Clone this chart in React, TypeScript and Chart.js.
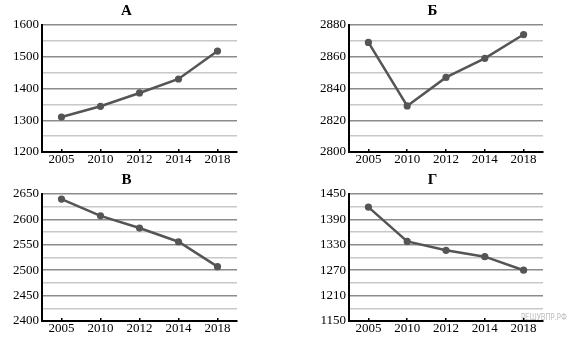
import React, { useEffect, useRef } from 'react';
import { Chart, registerables } from 'chart.js';

Chart.register(...registerables);

const years = ['2005', '2010', '2012', '2014', '2018'];

const titleA = 'А';
const valuesA = [1310, 1344, 1386, 1430, 1518];
const rangeA = [1200, 1600, 50];

const titleB = 'Б';
const valuesB = [2869, 2829, 2847, 2859, 2874];
const rangeB = [2800, 2880, 10];

const titleV = 'В';
const valuesV = [2640, 2607, 2583, 2556, 2507];
const rangeV = [2400, 2650, 25];

const titleG = 'Г';
const valuesG = [1419, 1338, 1317, 1302, 1270];
const rangeG = [1150, 1450, 30];

const FONT = '"Liberation Serif", "Times New Roman", serif';

type Box = { left: number; top: number; width: number; height: number; axisWidth: number };

function MiniChart(props: { title: string; values: number[]; range: number[]; box: Box }) {
  const ref = useRef<HTMLCanvasElement>(null);
  const { title, values, range, box } = props;
  useEffect(() => {
    const [min, max, step] = range;
    const isMajor = (v: number) => Math.round((v - min) / step) % 2 === 0;
    const chart = new Chart(ref.current as HTMLCanvasElement, {
      type: 'line',
      data: {
        labels: years,
        datasets: [
          {
            data: values,
            borderColor: '#555555',
            backgroundColor: '#555555',
            borderWidth: 2.5,
            pointRadius: 3.6,
            pointBackgroundColor: '#555555',
            pointBorderWidth: 0,
            tension: 0,
          },
        ],
      },
      options: {
        animation: false,
        responsive: false,
        devicePixelRatio: 1,
        layout: { padding: { left: 0, right: 0, top: 0, bottom: 0 } },
        plugins: {
          legend: { display: false },
          tooltip: { enabled: false },
          title: {
            display: true,
            text: title,
            color: '#000',
            font: { family: FONT, size: 15, weight: 'bold', lineHeight: 1.2 },
            padding: { top: 2, bottom: 5 },
          },
        },
        scales: {
          x: {
            type: 'category',
            offset: true,
            grid: {
              drawOnChartArea: false,
              drawTicks: true,
              tickLength: -3,
              color: '#000',
              lineWidth: 1.5,
            },
            border: { display: true, color: '#000', width: 2 },
            ticks: {
              color: '#000',
              padding: 3,
              font: { family: FONT, size: 13 },
              maxRotation: 0,
              autoSkip: false,
            },
            afterFit: (s: any) => {
              s.height = 20;
            },
          },
          y: {
            type: 'linear',
            min,
            max,
            grid: {
              drawTicks: false,
              lineWidth: 1.5,
              color: (c: any) =>
                c.tick && Math.abs(c.tick.value - min) < 1e-6
                  ? '#000'
                  : c.tick && isMajor(c.tick.value)
                  ? '#8c8c8c'
                  : '#c8c8c8',
            },
            border: { display: true, color: '#000', width: 2 },
            ticks: {
              stepSize: step,
              autoSkip: false,
              maxTicksLimit: 50,
              padding: 3,
              color: '#000',
              font: { family: FONT, size: 13 },
              callback: (v: any) => (isMajor(Number(v)) ? String(v) : ''),
            },
            afterFit: (s: any) => {
              s.width = box.axisWidth;
            },
          },
        },
      },
    });
    return () => chart.destroy();
  }, []);
  return (
    <canvas
      ref={ref}
      width={box.width}
      height={box.height}
      style={{
        position: 'absolute',
        left: box.left,
        top: box.top,
        width: box.width,
        height: box.height,
      }}
    />
  );
}

export default function App() {
  return (
    <div
      style={{
        position: 'fixed',
        left: 0,
        top: 0,
        width: 571,
        height: 345,
        background: '#fff',
        overflow: 'hidden',
      }}
    >
      <MiniChart title={titleA} values={valuesA} range={rangeA} box={{ left: 12, top: 0, width: 229, height: 172, axisWidth: 30 }} />
      <MiniChart title={titleB} values={valuesB} range={rangeB} box={{ left: 318, top: 0, width: 229, height: 172, axisWidth: 31 }} />
      <MiniChart title={titleV} values={valuesV} range={rangeV} box={{ left: 12, top: 169, width: 229, height: 172, axisWidth: 30 }} />
      <MiniChart title={titleG} values={valuesG} range={rangeG} box={{ left: 318, top: 169, width: 229, height: 172, axisWidth: 31 }} />
      <div
        style={{
          position: 'absolute',
          left: 521,
          top: 313,
          fontFamily: '"DejaVu Sans", sans-serif',
          fontSize: 8,
          lineHeight: '9px',
          color: '#bdbdbd',
          whiteSpace: 'nowrap',
          transform: 'scaleX(0.85)',
          transformOrigin: 'left top',
        }}
      >
        РЕШУВПР.РФ
      </div>
    </div>
  );
}
